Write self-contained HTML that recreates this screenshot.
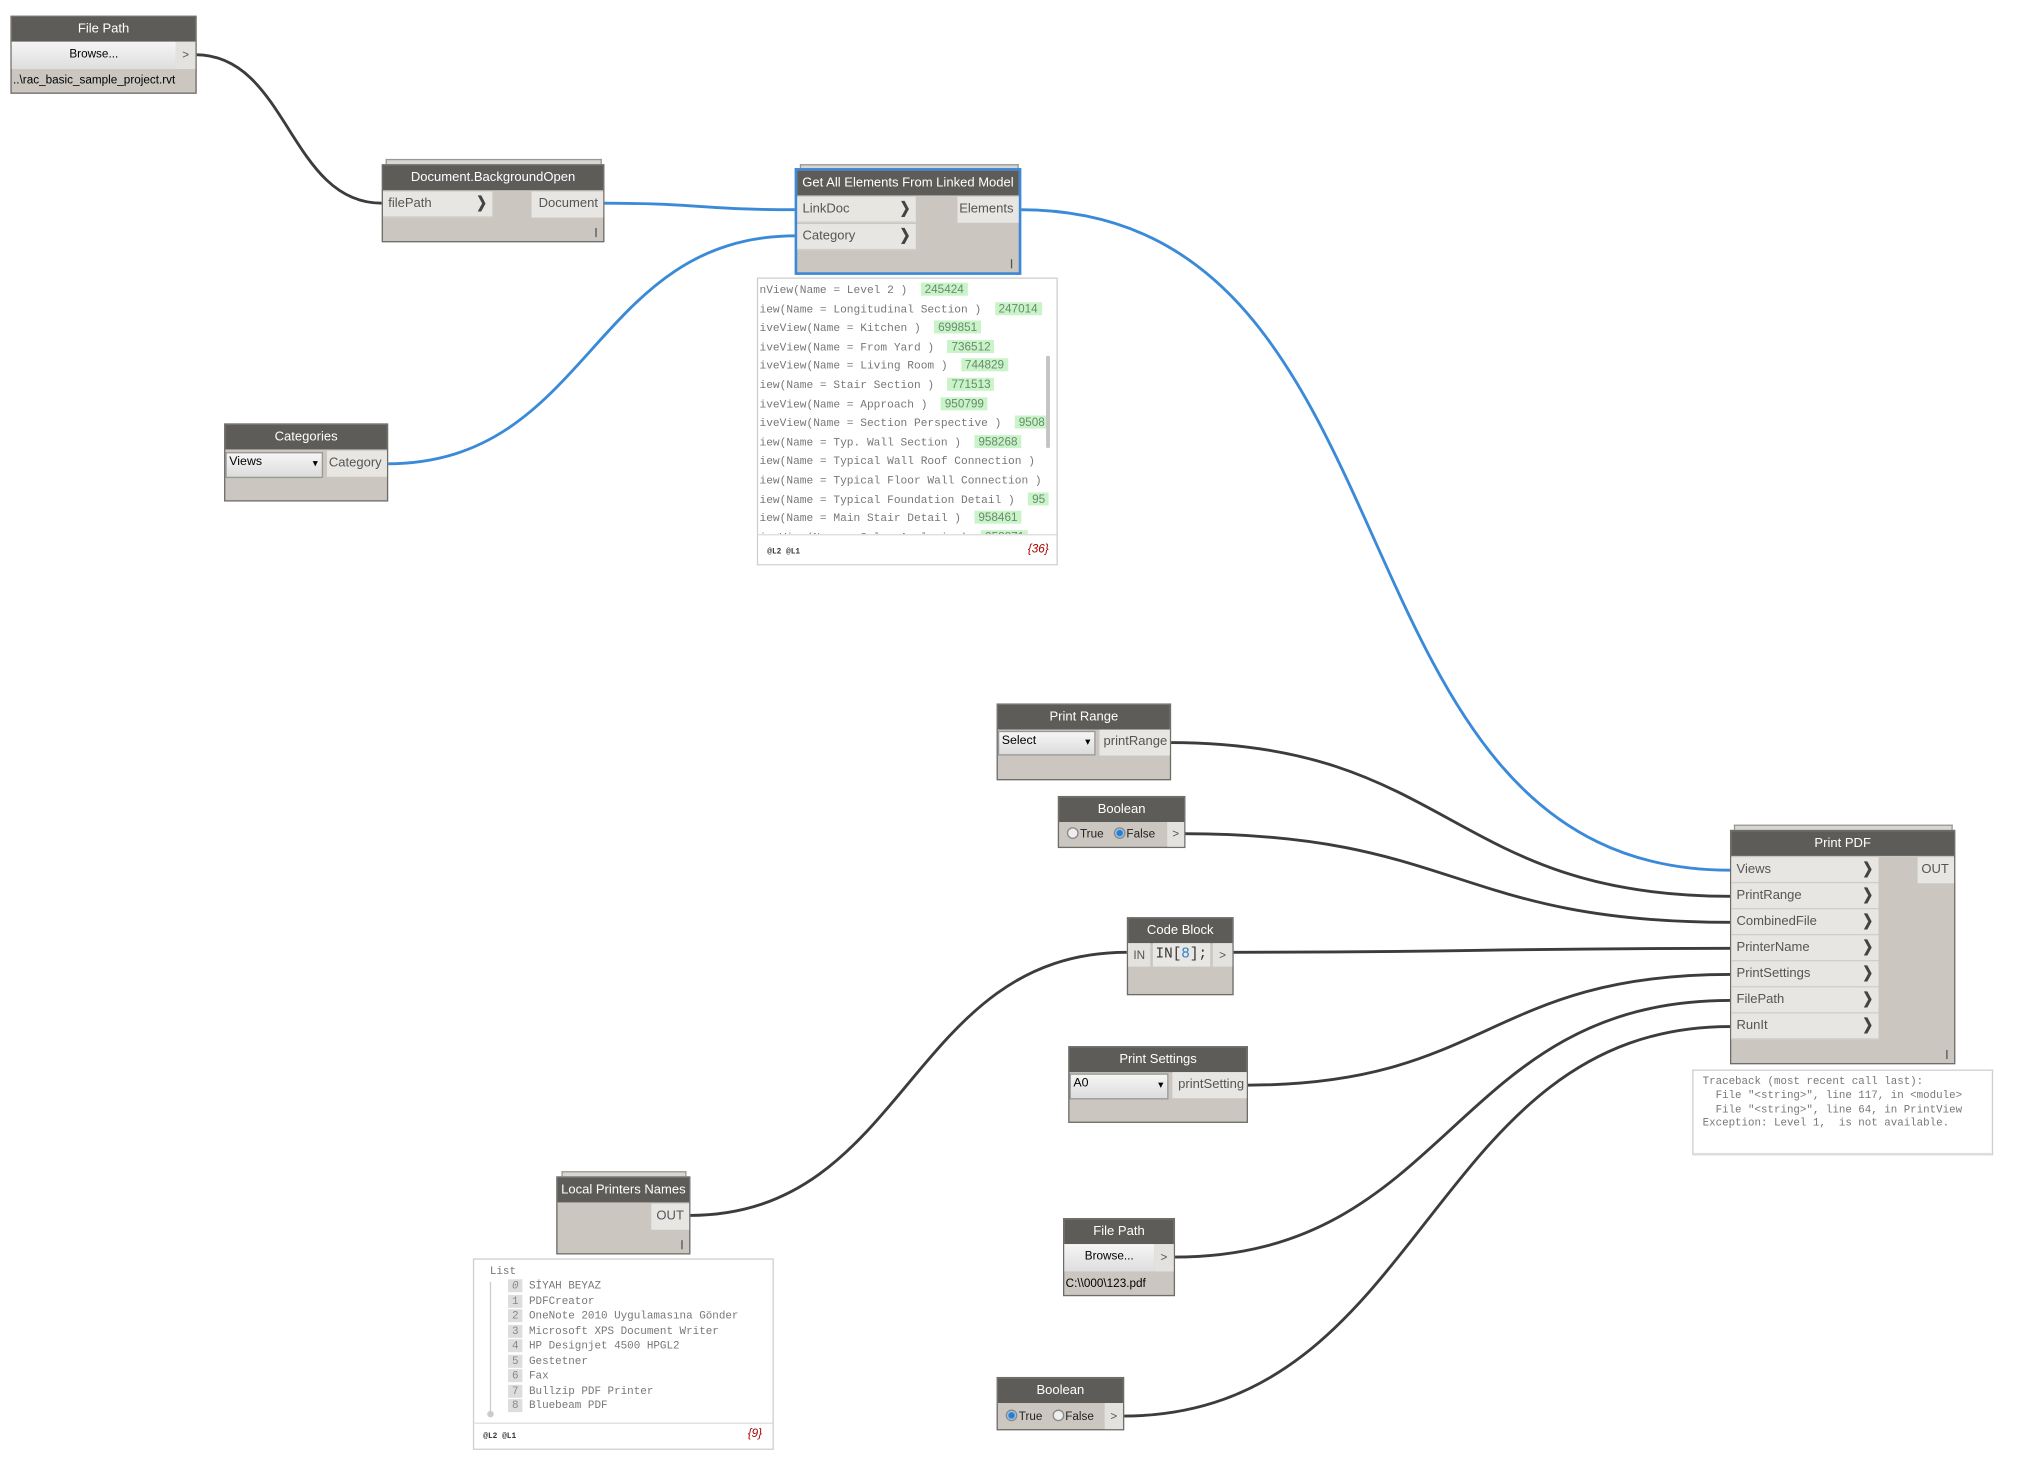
<!DOCTYPE html>
<html><head><meta charset="utf-8"><style>
html,body{margin:0;padding:0;background:#fff;overflow:hidden}
#w{position:absolute;left:0;top:0;width:1568px;height:1133px;transform:scale(1.3027);transform-origin:0 0;font-family:"Liberation Sans","Noto Sans CJK SC",sans-serif}
svg{position:absolute;left:0;top:0}
.n{position:absolute;background:#cbc7c0;border:1px solid #6f6d6a;box-sizing:border-box}
.st{position:absolute;height:3px;border:1px solid #9a9893;border-bottom:none;background:#d8d6d2}
.h{position:absolute;left:0;right:0;top:0;height:19px;background:#5e5c59;color:#fff;font-size:10px;text-align:center;line-height:19px;white-space:nowrap}
.r{position:absolute;background:#e7e6e2;color:#555;font-size:10px;line-height:20px;height:20px;box-sizing:border-box;white-space:nowrap}
.ri{padding-left:4px;border-bottom:1px solid #cfcdc8}
.ch{position:absolute;right:4px;top:0;font-weight:bold;color:#444;transform:scaleY(1.2)}
.ro{text-align:right;padding-right:4px}
.bar{position:absolute;right:5px;bottom:3px;width:1px;height:7px;background:#555}
.dd{position:absolute;background:linear-gradient(#f6f6f6,#dcdcdc);border:1px solid #999;box-sizing:border-box;font-size:9.5px;color:#000;line-height:14px;padding-left:2px}
.dd:after{content:"\25BE";position:absolute;right:3px;top:1px;font-size:8px}
.pv{position:absolute;background:#fff;border:1px solid #cfcfcf;box-sizing:border-box;overflow:hidden}
.m{font-family:"Liberation Mono",monospace;font-size:8.6px;color:#777;white-space:pre;position:absolute}
.ln{display:block;height:14.6px;line-height:14.6px}
.g{background:#c9f4c9;color:#6a8a6a;font-family:"Liberation Sans",sans-serif;font-size:9px;line-height:11px;padding:0 3px}
.port{position:absolute;font-size:9px;color:#555;background:#e3e2de;text-align:center;line-height:20px}
.rad{display:inline-block;width:7px;height:7px;border-radius:50%;border:1px solid #888;background:#eee;vertical-align:-1px;margin-right:1px}
.rad.on{background:radial-gradient(#2a7ec8 40%,#9cc8ee 60%)}
.li{display:block;height:11.5px;line-height:11.5px}
.ix{background:#ddd;color:#888;padding:0 3px}
</style></head><body><div id="w">
<svg width="1568" height="1133">
<g fill="none" stroke-width="2.2">
<path d="M150,42 C221,42 222,156 293,156" stroke="#3c3c3c"/>
<path d="M463,156 C537,156 537,161 611,161" stroke="#3b8ad9"/>
<path d="M297,356 C454,356 454,181 611,181" stroke="#3b8ad9"/>
<path d="M783,161 C1100,161 1010,668 1328,668" stroke="#3b8ad9"/>
<path d="M898,570 C1113,570 1113,688 1328,688" stroke="#3c3c3c"/>
<path d="M909,640 C1118,640 1118,708 1328,708" stroke="#3c3c3c"/>
<path d="M946,731 C1137,731 1137,728 1328,728" stroke="#3c3c3c"/>
<path d="M957,833 C1142,833 1142,748 1328,748" stroke="#3c3c3c"/>
<path d="M901,965 C1114,965 1114,768 1328,768" stroke="#3c3c3c"/>
<path d="M862,1087 C1095,1087 1095,788 1328,788" stroke="#3c3c3c"/>
<path d="M529,933 C697,933 697,731 865,731" stroke="#3c3c3c"/>
</g>
</svg>

<!-- File Path 1 -->
<div class="n" style="left:8px;top:12px;width:143px;height:60px">
<div class="h">File Path</div>
<div style="position:absolute;left:0;top:19px;width:126px;height:21px;background:linear-gradient(#f5f5f5,#dedede);font-size:9px;text-align:center;line-height:18px">Browse...</div>
<div class="port" style="left:126px;top:19px;width:15px;height:21px">&gt;</div>
<div style="position:absolute;left:1px;top:43px;font-size:9px;color:#000">..\rac_basic_sample_project.rvt</div>
</div>

<!-- Document.BackgroundOpen -->
<div class="st" style="left:296px;top:122px;width:164px"></div>
<div class="n" style="left:293px;top:126px;width:171px;height:60px">
<div class="h">Document.BackgroundOpen</div>
<div class="r ri" style="left:0;top:20px;width:84px">filePath<span class="ch">&#x276F;</span></div>
<div class="r ro" style="left:114px;top:20px;width:55px">Document</div>
<div class="bar"></div>
</div>

<!-- Get All Elements -->
<div class="st" style="left:614px;top:126px;width:166px"></div>
<div class="n" style="left:610px;top:129px;width:174px;height:82px;border:2px solid #3b8ad9">
<div class="h">Get All Elements From Linked Model</div>
<div class="r ri" style="left:0;top:20px;width:91px">LinkDoc<span class="ch">&#x276F;</span></div>
<div class="r ri" style="left:0;top:41px;width:91px">Category<span class="ch">&#x276F;</span></div>
<div class="r ro" style="left:123px;top:20px;width:47px">Elements</div>
<div class="bar"></div>
</div>

<!-- preview 1 -->
<div class="pv" style="left:581px;top:213px;width:231px;height:221px">
<div class="m" style="left:1px;top:2px"><span class="ln">nView(Name = Level 2 )  <span class="g">245424</span></span><span class="ln">iew(Name = Longitudinal Section )  <span class="g">247014</span></span><span class="ln">iveView(Name = Kitchen )  <span class="g">699851</span></span><span class="ln">iveView(Name = From Yard )  <span class="g">736512</span></span><span class="ln">iveView(Name = Living Room )  <span class="g">744829</span></span><span class="ln">iew(Name = Stair Section )  <span class="g">771513</span></span><span class="ln">iveView(Name = Approach )  <span class="g">950799</span></span><span class="ln">iveView(Name = Section Perspective )  <span class="g">9508</span></span><span class="ln">iew(Name = Typ. Wall Section )  <span class="g">958268</span></span><span class="ln">iew(Name = Typical Wall Roof Connection )</span><span class="ln">iew(Name = Typical Floor Wall Connection )</span><span class="ln">iew(Name = Typical Foundation Detail )  <span class="g">95</span></span><span class="ln">iew(Name = Main Stair Detail )  <span class="g">958461</span></span><span class="ln">iveView(Name = Solar Analysis )  <span class="g">958871</span></span></div>
<div style="position:absolute;left:0;right:0;top:196px;height:25px;background:#fff;border-top:1px solid #ddd"></div>
<div style="position:absolute;left:221px;top:59px;width:3px;height:71px;background:#c4c4c4;border-radius:2px"></div>
<div style="position:absolute;left:7px;top:206px;font:bold 6px 'Liberation Mono',monospace;color:#333">@L2 @L1</div>
<div style="position:absolute;right:6px;top:202px;font-size:9px;color:#a00;font-style:italic">{36}</div>
</div>

<!-- Categories -->
<div class="n" style="left:172px;top:325px;width:126px;height:60px">
<div class="h">Categories</div>
<div class="dd" style="left:0;top:21px;width:75px;height:20px">Views</div>
<div class="r ro" style="left:78px;top:20px;width:46px">Category</div>
</div>

<!-- Print Range -->
<div class="n" style="left:765px;top:540px;width:134px;height:59px">
<div class="h">Print Range</div>
<div class="dd" style="left:0;top:20px;width:75px;height:19px">Select</div>
<div class="r ro" style="left:78px;top:19px;width:54px;padding-right:2px">printRange</div>
</div>

<!-- Boolean 1 -->
<div class="n" style="left:812px;top:611px;width:98px;height:40px">
<div class="h">Boolean</div>
<div style="position:absolute;left:6px;top:23px;font-size:9px;color:#222"><span class="rad"></span>True &nbsp;&nbsp;<span class="rad on"></span>False</div>
<div class="port" style="left:83px;top:19px;width:13px;height:19px;line-height:19px">&gt;</div>
</div>

<!-- Code Block -->
<div class="n" style="left:865px;top:704px;width:82px;height:60px">
<div class="h">Code Block</div>
<div class="port" style="left:0;top:19px;width:17px;height:18px;line-height:18px">IN</div>
<div style="position:absolute;left:19px;top:19px;width:44px;height:18px;background:#e8e7e3;font:11px 'Liberation Mono',monospace;line-height:18px;color:#333;padding-left:2px;box-sizing:border-box">IN[<span style="color:#2a7fd0">8</span>];</div>
<div class="port" style="left:65px;top:19px;width:15px;height:18px;line-height:18px">&gt;</div>
</div>

<!-- Print Settings -->
<div class="n" style="left:820px;top:803px;width:138px;height:59px">
<div class="h">Print Settings</div>
<div class="dd" style="left:0;top:20px;width:76px;height:20px">A0</div>
<div class="r ro" style="left:79px;top:19px;width:57px;padding-right:2px">printSetting</div>
</div>

<!-- Print PDF -->
<div class="st" style="left:1331px;top:633px;width:166px"></div>
<div class="n" style="left:1328px;top:637px;width:173px;height:180px">
<div class="h">Print PDF</div>
<div class="r ri" style="left:0;top:20px;width:113px">Views<span class="ch">&#x276F;</span></div>
<div class="r ri" style="left:0;top:40px;width:113px">PrintRange<span class="ch">&#x276F;</span></div>
<div class="r ri" style="left:0;top:60px;width:113px">CombinedFile<span class="ch">&#x276F;</span></div>
<div class="r ri" style="left:0;top:80px;width:113px">PrinterName<span class="ch">&#x276F;</span></div>
<div class="r ri" style="left:0;top:100px;width:113px">PrintSettings<span class="ch">&#x276F;</span></div>
<div class="r ri" style="left:0;top:120px;width:113px">FilePath<span class="ch">&#x276F;</span></div>
<div class="r ri" style="left:0;top:140px;width:113px">RunIt<span class="ch">&#x276F;</span></div>
<div class="r ro" style="left:143px;top:20px;width:28px">OUT</div>
<div class="bar"></div>
</div>

<!-- traceback -->
<div class="pv" style="left:1299px;top:821px;width:231px;height:66px;border-bottom:2px solid #ddd">
<div class="m" style="left:7px;top:4px;line-height:10.8px;font-size:8.3px">Traceback (most recent call last):
  File "&lt;string&gt;", line 117, in &lt;module&gt;
  File "&lt;string&gt;", line 64, in PrintView
Exception: Level 1,  is not available.</div>
</div>

<!-- Local Printers Names -->
<div class="st" style="left:431px;top:899px;width:94px"></div>
<div class="n" style="left:427px;top:903px;width:103px;height:60px">
<div class="h">Local Printers Names</div>
<div class="r ro" style="left:72px;top:20px;width:29px">OUT</div>
<div class="bar"></div>
</div>

<!-- List preview -->
<div class="pv" style="left:363px;top:966px;width:231px;height:147px">
<div class="m" style="left:12px;top:4px;font-size:8.4px">List</div>
<div style="position:absolute;left:12px;top:17px;width:1px;height:100px;background:#ccc"></div>
<div style="position:absolute;left:10px;top:116px;width:5px;height:5px;border-radius:50%;background:#ccc"></div>
<div class="m" style="left:26px;top:15px;font-size:8.4px"><span class="li"><span class="ix" style="font-style:italic">0</span> SİYAH BEYAZ</span><span class="li"><span class="ix">1</span> PDFCreator</span><span class="li"><span class="ix">2</span> OneNote 2010 Uygulamasına Gönder</span><span class="li"><span class="ix">3</span> Microsoft XPS Document Writer</span><span class="li"><span class="ix">4</span> HP Designjet 4500 HPGL2</span><span class="li"><span class="ix">5</span> Gestetner</span><span class="li"><span class="ix">6</span> Fax</span><span class="li"><span class="ix">7</span> Bullzip PDF Printer</span><span class="li"><span class="ix">8</span> Bluebeam PDF</span></div>
<div style="position:absolute;left:0;right:0;top:125px;height:1px;background:#ddd"></div>
<div style="position:absolute;left:7px;top:132px;font:bold 6px 'Liberation Mono',monospace;color:#333">@L2 @L1</div>
<div style="position:absolute;right:8px;top:128px;font-size:9px;color:#a00;font-style:italic">{9}</div>
</div>

<!-- File Path 2 -->
<div class="n" style="left:816px;top:935px;width:86px;height:60px">
<div class="h">File Path</div>
<div style="position:absolute;left:0;top:19px;width:69px;height:21px;background:linear-gradient(#f5f5f5,#dedede);font-size:9px;text-align:center;line-height:18px">Browse...</div>
<div class="port" style="left:69px;top:19px;width:15px;height:21px">&gt;</div>
<div style="position:absolute;left:1px;top:44px;font-size:9px;color:#000">C:\\000\123.pdf</div>
</div>

<!-- Boolean 2 -->
<div class="n" style="left:765px;top:1057px;width:98px;height:41px">
<div class="h">Boolean</div>
<div style="position:absolute;left:6px;top:24px;font-size:9px;color:#222"><span class="rad on"></span>True &nbsp;&nbsp;<span class="rad"></span>False</div>
<div class="port" style="left:82px;top:19px;width:14px;height:20px">&gt;</div>
</div>

</div></body></html>
